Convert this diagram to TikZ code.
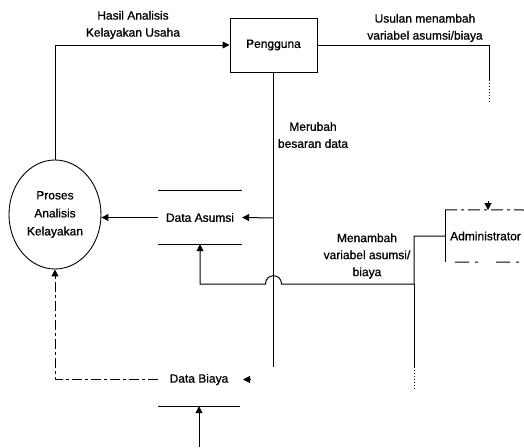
\documentclass[tikz,border=0pt]{standalone}
\usepackage{fontspec}
\setmainfont[FakeBold=0.8]{Liberation Sans}
\usetikzlibrary{shapes.geometric,arrows.meta}
\begin{document}
\begin{tikzpicture}[x=1pt,y=-1pt,
  conn/.style={line width=1pt,black},
  arr/.style={conn,-{Triangle[length=7pt,width=7pt]}},
  lbl/.style={font=\fontsize{12}{17}\selectfont,align=center,inner sep=0pt},
  store/.style={lbl,minimum height=53pt}
]
\useasboundingbox (0,0) rectangle (524,447);
\clip (0,0) rectangle (524,447);

% nodes
\node[ellipse, draw, line width=0.9pt, minimum width=92pt, minimum height=109pt,
      inner sep=0pt, font=\fontsize{12}{18}\selectfont, align=center] (proc) at (55,214.5) {Proses\\Analisis\\Kelayakan};
\node[draw, line width=1pt, minimum width=87pt, minimum height=54pt, lbl] (peng) at (273.5,45) {Pengguna};
\node[store, minimum width=84pt] (da) at (200,217.5) {Data Asumsi};
\node[store, minimum width=82pt] (db) at (199,379.5) {Data Biaya};
\node[lbl, anchor=west, minimum height=52pt, inner xsep=5pt] (adm) at (445,236) {Administrator};

% store outlines
\draw[conn] (da.north west) -- (da.north east);
\draw[conn] (da.south west) -- (da.south east);
\draw[conn] (db.south west) -- (db.south east);
\draw[conn] (adm.north west) -- (adm.south west);
\coordinate (admne) at (524,210);
\coordinate (admse) at (524,262);
\draw[conn, dash pattern=on 12pt off 4pt on 3pt off 4pt] (adm.north west) -- (admne);
\draw[conn, dash pattern=on 0pt off 10pt on 14pt off 6pt on 3pt off 8pt] (adm.south west) -- (admse);

% coordinates
\coordinate (u1) at (489,80);
\coordinate (u2) at (489,103);
\coordinate (u3) at (488,201);
\coordinate (admtop) at (488,210);
\coordinate (m1) at (273.5,218);
\coordinate (m2) at (273.5,367);
\coordinate (a1) at (414,236);
\coordinate (a2) at (414,284);
\coordinate (b1) at (281.5,284);
\coordinate (b2) at (265.5,284);
\coordinate (a3) at (200,284);
\coordinate (a4) at (414,367);
\coordinate (a5) at (414,390);
\coordinate (bin) at (199,447);
\coordinate (bt) at (250,379.5);
\coordinate (btip) at (243,379.5);

% connectors
\draw[arr] (proc.north) |- (peng.west);
\draw[conn] (peng.east) -| (u1);
\draw[conn, dotted] (u1) -- (u2);
\draw[arr] (u3) -- (admtop);
\draw[conn] (peng.south) -- (m2);
\draw[arr] (m1) -- (da.east);
\draw[arr] (da.west) -- (da.west -| proc.east);
\draw[arr, dash pattern=on 10pt off 3pt on 3pt off 3pt] (db.west) -| (proc.south);
\draw[arr] (bin) -- (db.south);
\draw[arr] (bt) -- (btip);
\draw[arr] (adm.west) -- (a1) -- (a2) -- (b1) .. controls (281.5,273) and (265.5,273) .. (b2) -- (a3) -- (da.south);
\draw[conn] (a2) -- (a4);
\draw[conn, dotted] (a4) -- (a5);

% labels
\node[lbl] (l1) at (133,25) {Hasil Analisis\\Kelayakan Usaha};
\node[lbl] (l2) at (425,28) {Usulan menambah\\variabel asumsi/biaya};
\node[lbl] (l3) at (313,135) {Merubah\\besaran data};
\node[lbl] (l4) at (367,256) {Menambah\\variabel asumsi/\\biaya};
\end{tikzpicture}
\end{document}
